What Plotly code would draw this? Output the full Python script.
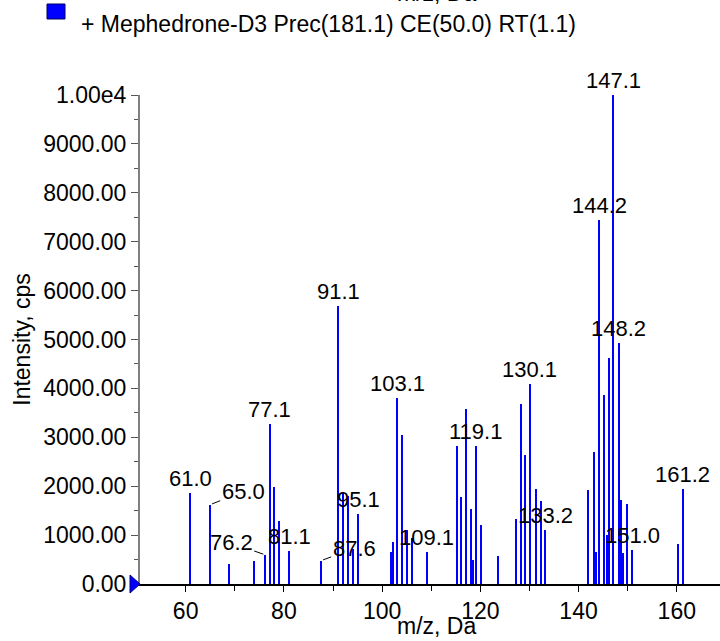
import plotly.graph_objects as go

# ---------------- data ----------------
mz = [61.0, 65.0, 68.8, 74.0, 76.2, 77.1, 78.0, 79.0, 81.1, 87.6,
      91.1, 92.0, 93.0, 94.0, 95.1, 101.8, 102.2, 103.1, 104.1, 105.1,
      106.2, 109.1, 115.2, 116.1, 117.1, 118.1, 118.5, 119.1, 120.2, 123.6,
      127.2, 128.2, 129.2, 130.1, 131.3, 132.3, 133.2, 142.0, 143.1, 143.5,
      144.2, 145.2, 145.8, 146.2, 147.1, 148.2, 148.7, 149.0, 149.9, 151.0,
      160.3, 161.2]
intensity = [1862, 1623, 408, 480, 596, 3277, 1984, 1282, 684, 480,
             5686, 1860, 1790, 720, 1430, 650, 853, 3802, 3041, 1113,
             945, 650, 2828, 1780, 3577, 1530, 500, 2828, 1200, 575,
             1331, 3685, 2634, 4094, 1950, 1700, 1110, 1929, 2691, 649,
             7442, 3862, 1010, 4631, 10000, 4937, 1711, 636, 1630, 691,
             827, 1950]
labelled = [61.0, 65.0, 76.2, 77.1, 81.1, 87.6, 91.1, 95.1, 103.1, 109.1,
            119.1, 130.1, 133.2, 144.2, 147.1, 148.2, 151.0, 161.2]
y_tickvals = [0, 1000, 2000, 3000, 4000, 5000, 6000, 7000, 8000, 9000, 10000]
y_ticktext = ["0.00", "1000.00", "2000.00", "3000.00", "4000.00", "5000.00",
              "6000.00", "7000.00", "8000.00", "9000.00", "1.00e4"]
x_tickvals = [60, 80, 100, 120, 140, 160]
x_ticktext = ["60", "80", "100", "120", "140", "160"]
series_name = "+ Mephedrone-D3 Prec(181.1) CE(50.0) RT(1.1)"
x_title = "m/z, Da"
y_title = "Intensity, cps"

# ---------------- style ----------------
FONT = "Liberation Sans, Arial, Helvetica, sans-serif"
FS = 23      # axis / legend text
FS_PK = 22   # peak labels
W, H = 720, 641
L, R, T, B = 140, 0, 95, 57
PW, PH = W - L - R, H - T - B

def px_x(p):  # pixel -> paper x
    return (p - L) / PW

def px_y(p):  # pixel (from top) -> paper y
    return (H - B - p) / PH

fig = go.Figure()
fig.add_trace(go.Bar(
    x=mz, y=intensity, width=0.25, name=series_name, showlegend=False,
    marker=dict(color="#0000ff", line=dict(width=0)),
))

# peak labels
leader = {65.0: (33, -13), 76.2: (-34, -12), 87.6: (33, -12)}
lookup = dict(zip(mz, intensity))
for v in labelled:
    h = lookup[v]
    txt = f"{v:.1f}"
    if v in leader:
        ax, ay = leader[v]
        fig.add_annotation(x=v, y=h, xref="x", yref="y", text=txt,
                           showarrow=True, arrowhead=0, arrowwidth=1,
                           arrowcolor="black", ax=ax, ay=ay, standoff=2,
                           font=dict(family=FONT, size=FS_PK, color="black"))
    else:
        fig.add_annotation(x=v, y=h, xref="x", yref="y", text=txt,
                           showarrow=False, yanchor="bottom", yshift=0,
                           font=dict(family=FONT, size=FS_PK, color="black"))

# legend-like header
fig.add_shape(type="rect", xref="paper", yref="paper",
              x0=px_x(47), x1=px_x(65), y0=px_y(19), y1=px_y(4),
              fillcolor="#0000ff", line=dict(color="#000060", width=1))
fig.add_annotation(xref="paper", yref="paper", x=px_x(79), y=px_y(24),
                   xanchor="left", yanchor="middle", showarrow=False,
                   text=series_name, font=dict(family=FONT, size=FS, color="black"))
# clipped duplicate axis title at very top
fig.add_annotation(xref="paper", yref="paper", x=px_x(436), y=px_y(8),
                   xanchor="center", yanchor="bottom", showarrow=False,
                   text=x_title, font=dict(family=FONT, size=FS, color="black"))
# x-axis title at the bottom
fig.add_annotation(xref="paper", yref="paper", x=px_x(436), y=px_y(641),
                   xanchor="center", yanchor="bottom", showarrow=False,
                   text=x_title, font=dict(family=FONT, size=FS, color="black"))

# triangle marker at the origin of the y axis
tx0, tx1 = px_x(130), px_x(140)
ty0, ty1, tyc = px_y(593), px_y(575), px_y(584)
fig.add_shape(type="path", xref="paper", yref="paper",
              path=f"M {tx0},{ty1} L {tx1},{tyc} L {tx0},{ty0} Z",
              fillcolor="#0000ff", line=dict(color="#000080", width=1))

fig.update_layout(
    width=W, height=H,
    margin=dict(l=L, r=R, t=T, b=B, autoexpand=False),
    paper_bgcolor="white", plot_bgcolor="white",
    font=dict(family=FONT, size=FS, color="black"),
    bargap=0,
    xaxis=dict(
        range=[50.7, 168.8], tickmode="array", tickvals=x_tickvals, ticktext=x_ticktext,
        ticks="outside", ticklen=6, tickwidth=1, tickcolor="black",
        showline=True, linecolor="black", linewidth=1.5,
        showgrid=False, zeroline=False, automargin=False,
        tickfont=dict(family=FONT, size=FS, color="black"),
        minor=dict(dtick=10, tick0=0, ticks="outside", ticklen=5, tickcolor="black", showgrid=False),
    ),
    yaxis=dict(
        range=[0, 10000], tickmode="array", tickvals=y_tickvals, ticktext=y_ticktext,
        ticks="outside", ticklen=7, tickwidth=1, tickcolor="#555555",
        showline=True, linecolor="#808080", linewidth=2,
        showgrid=False, zeroline=False, automargin=False,
        tickfont=dict(family=FONT, size=FS, color="black"),
        minor=dict(dtick=500, tick0=0, ticks="outside", ticklen=4, tickcolor="#555555", showgrid=False),
        title=dict(text=y_title, standoff=6, font=dict(family=FONT, size=FS, color="black")),
    ),
)

fig.write_html("out.html",
               config={"displayModeBar": False},
               post_script="document.body.style.margin='0';document.body.style.overflow='hidden';")
